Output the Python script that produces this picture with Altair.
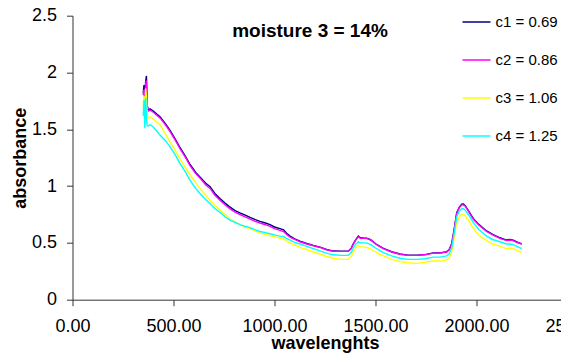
import altair as alt
import pandas as pd

wavelength = [350, 354, 358, 362, 366, 370, 375, 384, 400, 433, 460, 483, 510, 532, 560, 582, 610, 631, 660, 681,
              705, 730, 755, 780, 805, 829, 855, 879, 905, 928, 955, 978, 1000, 1027, 1045, 1060, 1077, 1100, 1126,
              1160, 1192, 1225, 1258, 1291, 1330, 1365, 1380, 1390, 1400, 1415, 1425, 1440, 1456, 1470, 1481, 1500,
              1520, 1539, 1580, 1621, 1660, 1704, 1745, 1786, 1820, 1852, 1865, 1877, 1890, 1902, 1915, 1927, 1935,
              1943, 1960, 1984, 2010, 2050, 2080, 2116, 2149, 2165, 2182, 2200, 2224]

c1 = [1.82, 1.89, 1.76, 1.92, 1.97, 1.71, 1.67, 1.68, 1.66, 1.61, 1.55, 1.49, 1.41, 1.34, 1.26, 1.19, 1.12, 1.08,
      1.025, 0.995, 0.935, 0.89, 0.85, 0.815, 0.785, 0.765, 0.745, 0.725, 0.705, 0.69, 0.675, 0.66, 0.64, 0.625,
      0.615, 0.585, 0.56, 0.535, 0.515, 0.495, 0.478, 0.462, 0.442, 0.428, 0.427, 0.427, 0.452, 0.492, 0.523, 0.56,
      0.545, 0.543, 0.542, 0.532, 0.522, 0.492, 0.472, 0.452, 0.422, 0.402, 0.392, 0.392, 0.397, 0.412, 0.412,
      0.422, 0.442, 0.492, 0.625, 0.765, 0.815, 0.84, 0.842, 0.83, 0.785, 0.715, 0.665, 0.605, 0.575, 0.545, 0.525,
      0.53, 0.523, 0.508, 0.492]

c2 = [1.80, 1.85, 1.75, 1.90, 1.93, 1.70, 1.66, 1.67, 1.65, 1.60, 1.54, 1.48, 1.40, 1.33, 1.25, 1.18, 1.11, 1.07,
      1.01, 0.98, 0.92, 0.875, 0.835, 0.80, 0.77, 0.75, 0.73, 0.71, 0.69, 0.675, 0.66, 0.645, 0.625, 0.61, 0.60,
      0.575, 0.55, 0.53, 0.51, 0.49, 0.475, 0.46, 0.44, 0.425, 0.425, 0.425, 0.45, 0.49, 0.52, 0.555, 0.54, 0.54,
      0.54, 0.53, 0.52, 0.49, 0.47, 0.45, 0.42, 0.40, 0.39, 0.39, 0.395, 0.41, 0.41, 0.42, 0.44, 0.49, 0.62, 0.76,
      0.81, 0.835, 0.835, 0.825, 0.78, 0.71, 0.66, 0.60, 0.57, 0.54, 0.52, 0.525, 0.52, 0.505, 0.49]

c3 = [1.70, 1.79, 1.65, 1.86, 1.80, 1.62, 1.60, 1.61, 1.59, 1.54, 1.46, 1.39, 1.31, 1.24, 1.16, 1.10, 1.03, 0.98,
      0.92, 0.875, 0.83, 0.79, 0.75, 0.71, 0.685, 0.66, 0.64, 0.626, 0.605, 0.587, 0.575, 0.565, 0.555, 0.54, 0.535,
      0.515, 0.50, 0.48, 0.46, 0.44, 0.42, 0.40, 0.38, 0.365, 0.355, 0.355, 0.38, 0.42, 0.45, 0.475, 0.465, 0.465,
      0.46, 0.45, 0.44, 0.42, 0.40, 0.385, 0.355, 0.335, 0.325, 0.32, 0.33, 0.34, 0.34, 0.35, 0.37, 0.42, 0.55, 0.68,
      0.73, 0.75, 0.75, 0.74, 0.70, 0.63, 0.57, 0.52, 0.49, 0.47, 0.45, 0.455, 0.45, 0.435, 0.415]

c4 = [1.62, 1.76, 1.51, 1.78, 1.60, 1.53, 1.53, 1.54, 1.52, 1.45, 1.40, 1.345, 1.27, 1.20, 1.12, 1.05, 0.98, 0.935,
      0.88, 0.846, 0.80, 0.77, 0.73, 0.70, 0.68, 0.66, 0.645, 0.635, 0.615, 0.60, 0.59, 0.58, 0.57, 0.56, 0.555,
      0.54, 0.525, 0.505, 0.49, 0.47, 0.45, 0.43, 0.41, 0.395, 0.39, 0.39, 0.415, 0.455, 0.485, 0.51, 0.50, 0.50,
      0.50, 0.49, 0.48, 0.455, 0.435, 0.415, 0.385, 0.365, 0.355, 0.355, 0.36, 0.375, 0.375, 0.385, 0.405, 0.455,
      0.59, 0.73, 0.78, 0.80, 0.80, 0.79, 0.75, 0.68, 0.62, 0.56, 0.53, 0.51, 0.49, 0.49, 0.485, 0.47, 0.45]

series_names = ["c1 = 0.69", "c2 = 0.86", "c3 = 1.06", "c4 = 1.25"]
series_values = [c1, c2, c3, c4]
series_colors = ["#000080", "#FF00FF", "#FFFF00", "#00FFFF"]

x_ticks = [0, 500, 1000, 1500, 2000, 2500]
y_ticks = [0, 0.5, 1, 1.5, 2, 2.5]

rows = []
for name, vals in zip(series_names, series_values):
    for i, (w, v) in enumerate(zip(wavelength, vals)):
        rows.append({"series": name, "wl": w, "abs": v, "idx": i})
df = pd.DataFrame(rows)

FONT = "Liberation Sans"

chart = alt.Chart(df).mark_line(strokeWidth=1.4).encode(
    x=alt.X("wl:Q",
            scale=alt.Scale(domain=[0, 2500], nice=False, zero=False),
            axis=alt.Axis(values=x_ticks, format=".2f", title="wavelenghts", grid=False,
                          labelFontSize=18, labelFont=FONT, labelColor="black",
                          titleFontSize=18, titleFont=FONT, titleFontWeight="bold", titleColor="black",
                          tickSize=6, tickColor="#333333", domainColor="#333333",
                          labelPadding=12, titlePadding=-1, labelFlush=False, labelOverlap=False)),
    y=alt.Y("abs:Q",
            scale=alt.Scale(domain=[0, 2.5], nice=False),
            axis=alt.Axis(values=y_ticks, format="~g", title="absorbance", grid=False,
                          labelFontSize=18, labelFont=FONT, labelColor="black",
                          titleFontSize=18, titleFont=FONT, titleFontWeight="bold", titleColor="black",
                          tickSize=6, tickColor="#333333", domainColor="#333333",
                          labelPadding=10, titlePadding=2, labelFlush=False, labelOverlap=False)),
    color=alt.Color("series:N",
                    scale=alt.Scale(domain=series_names, range=series_colors),
                    legend=alt.Legend(title=None, orient="none", legendX=389, legendY=-8.7,
                                      symbolType="stroke", symbolSize=784, symbolStrokeWidth=1.5,
                                      labelFontSize=15, labelFont=FONT, labelColor="black",
                                      labelOffset=4, rowPadding=15, padding=0)),
    order="idx:Q",
).properties(
    width=505,
    height=284,
    title=alt.TitleParams("moisture 3 = 14%", font=FONT, fontSize=19, fontWeight="bold", color="black",
                          anchor="middle", frame="group", offset=-49, dx=-15, baseline="alphabetic"),
    autosize=alt.AutoSizeParams(type="none"),
    padding={"left": 64.5, "top": 7.7, "right": -16.5, "bottom": 54},
).configure_view(stroke=None)

chart.save("out.html", embed_options={"renderer": "svg", "actions": False})
